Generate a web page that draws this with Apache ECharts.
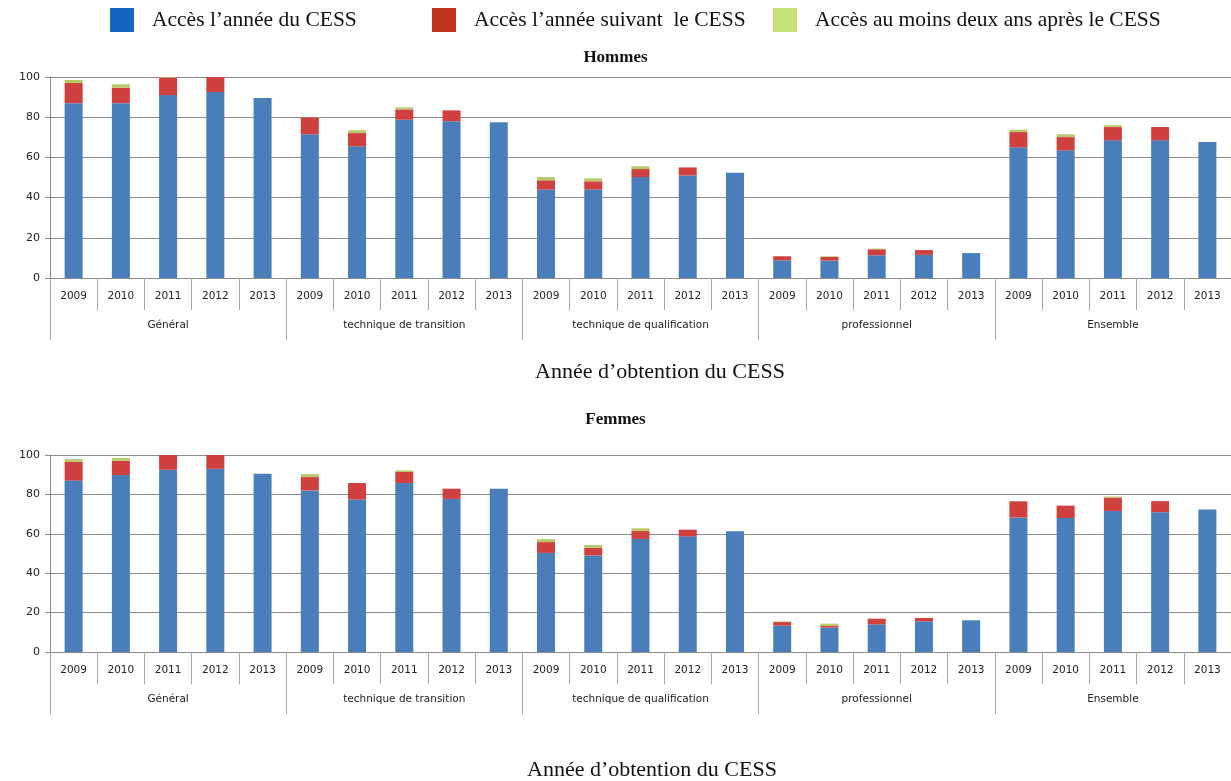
<!DOCTYPE html>
<html><head><meta charset="utf-8">
<script src="https://cdn.jsdelivr.net/npm/echarts@6/dist/echarts.min.js"></script>
<style>html,body{margin:0;padding:0;background:#fff}#c{width:1231px;height:781px}</style>
</head><body><div id="c"></div>
<script>
const groups = ["Général", "technique de transition", "technique de qualification", "professionnel", "Ensemble"];
const years = ["2009", "2010", "2011", "2012", "2013"];
const seriesNames = ["Accès l’année du CESS", "Accès l’année suivant  le CESS", "Accès au moins deux ans après le CESS"];

// Hommes
const hommesAnnee   = [87, 87, 91, 92.5, 89.5,  71.5, 65.5, 78.8, 78, 77.5,  44, 44, 50.2, 51, 52.4,  8.8, 8.7, 11.3, 11.5, 12.4,  65, 63.5, 68.5, 68.5, 67.7];
const hommesSuivant = [10, 7.7, 8.7, 7.5, 0,  8.3, 6.6, 5.1, 5.4, 0,  4.6, 4.1, 4, 4, 0,  2, 1.8, 3, 2.4, 0,  7.6, 6.6, 6.6, 6.6, 0];
const hommesDeux    = [1.5, 1.7, 0.3, 0, 0,  0, 1.4, 1, 0, 0,  1.6, 1.5, 1.4, 0, 0,  0, 0.3, 0.3, 0, 0,  1.2, 1.4, 0.9, 0, 0];

// Femmes
const femmesAnnee   = [87, 89.8, 92.5, 93, 90.5,  82, 77.4, 85.8, 77.7, 82.9,  50.3, 49, 57.4, 58.7, 61.3,  13.4, 12.4, 14, 15.6, 16.1,  68.2, 68, 71.6, 71, 72.3];
const femmesSuivant = [9.5, 7.2, 7.5, 7, 0,  6.8, 8.4, 5.6, 5.2, 0,  5.5, 4, 4, 3.4, 0,  1.8, 0.8, 2.9, 1.7, 0,  8.3, 6.3, 6.8, 5.6, 0];
const femmesDeux    = [1.4, 1.5, 0, 0, 0,  1.5, 0, 0.8, 0, 0,  1.5, 1.3, 1.4, 0, 0,  0.3, 1.2, 0, 0, 0,  0, 0, 0.5, 0, 0];

const yTicks = [0, 20, 40, 60, 80, 100];
const colors = ["#4A7EBB", "#D0403F", "#B8C96A"];
const legendColors = ["#1565C0", "#C0341D", "#C6E07A"];

const cats = [];
groups.forEach(g => years.forEach(y => cats.push(g + "|" + y)));

const serif = "Liberation Serif";
const sans = "DejaVu Sans";

function grids(top, height) { return {left: 50, width: 1185, top: top, height: height}; }

function xAxes(gi) {
  return [
    {type: 'category', gridIndex: gi, data: cats, boundaryGap: true,
     axisLine: {show: true, lineStyle: {color: '#8c8c8c', width: 1}},
     axisTick: {show: true, alignWithLabel: false, interval: 0, length: 32, lineStyle: {color: '#a8a8a8'}},
     axisLabel: {interval: 0, margin: 13, fontFamily: sans, fontSize: 10.5, color: '#222',
                 formatter: v => v.split('|')[1]}},
    {type: 'category', gridIndex: gi, data: groups, position: 'bottom', boundaryGap: true,
     axisLine: {show: false},
     axisTick: {show: true, interval: 0, length: 62, lineStyle: {color: '#a8a8a8'}},
     axisLabel: {interval: 0, margin: 42, fontFamily: sans, fontSize: 10.5, color: '#222'}}
  ];
}
function yAxis(gi) {
  return {type: 'value', gridIndex: gi, min: yTicks[0], max: yTicks[yTicks.length - 1], interval: 20,
    axisLine: {show: true, lineStyle: {color: '#8c8c8c'}},
    axisTick: {show: true, length: 5, lineStyle: {color: '#8c8c8c'}},
    axisLabel: {fontFamily: sans, fontSize: 11, color: '#222', margin: 10},
    splitLine: {show: true, lineStyle: {color: '#8c8c8c', width: 1.2}}};
}
function barSeries(gi, arrs, stack) {
  return arrs.map((d, i) => ({
    name: seriesNames[i], type: 'bar', stack: stack, xAxisIndex: gi * 2, yAxisIndex: gi,
    barWidth: 18, data: d, itemStyle: {color: colors[i]}, silent: true
  }));
}
const legendLeft = [110, 432, 773];
function legends() {
  return seriesNames.map((n, i) => ({
    top: 8, left: legendLeft[i], padding: 0, itemWidth: 24, itemHeight: 24,
    selectedMode: false,
    textStyle: {fontFamily: serif, fontSize: 21.5, color: '#111', padding: [0, 0, 0, 13]},
    data: [{name: n, icon: 'rect', itemStyle: {color: legendColors[i]}}]
  }));
}

const option = {
  animation: false,
  textStyle: {fontFamily: sans},
  legend: legends(),
  title: [
    {text: 'Hommes', left: 'center', top: 44, textStyle: {fontFamily: serif, fontSize: 17, fontWeight: 'bold', color: '#111'}},
    {text: 'Année d’obtention du CESS', left: 530, top: 356, textStyle: {fontFamily: serif, fontSize: 22, fontWeight: 'normal', color: '#111'}},
    {text: 'Femmes', left: 'center', top: 406, textStyle: {fontFamily: serif, fontSize: 17, fontWeight: 'bold', color: '#111'}},
    {text: 'Année d’obtention du CESS', left: 522, top: 754, textStyle: {fontFamily: serif, fontSize: 22, fontWeight: 'normal', color: '#111'}}
  ],
  grid: [grids(77, 201), grids(455, 197)],
  xAxis: xAxes(0).concat(xAxes(1)),
  yAxis: [yAxis(0), yAxis(1)],
  series: barSeries(0, [hommesAnnee, hommesSuivant, hommesDeux], 'h')
    .concat(barSeries(1, [femmesAnnee, femmesSuivant, femmesDeux], 'f'))
};

const chart = echarts.init(document.getElementById('c'), null, {renderer: 'canvas'});
chart.setOption(option);
</script></body></html>
